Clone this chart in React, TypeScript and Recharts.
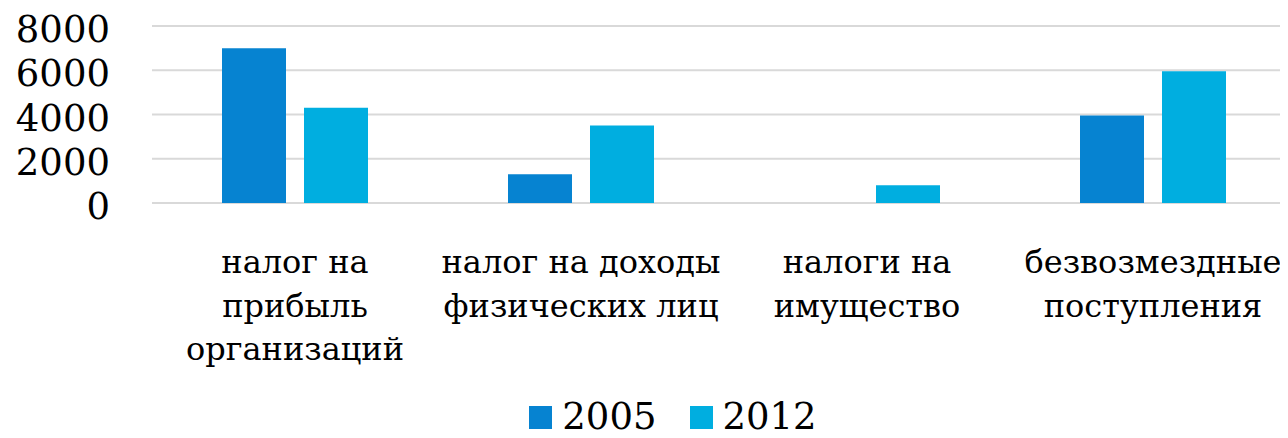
import React from 'react';
import { BarChart, Bar, XAxis, YAxis, CartesianGrid } from 'recharts';

const categories = [
  'налог на\nприбыль\nорганизаций',
  'налог на доходы\nфизических лиц',
  'налоги на\nимущество',
  'безвозмездные\nпоступления',
];
const seriesNames = ['2005', '2012'];
const values2005 = [7000, 1300, 0, 3950];
const values2012 = [4300, 3500, 800, 5950];
const yTicks = [0, 2000, 4000, 6000, 8000];

const data = categories.map((name, i) => ({
  name,
  y2005: values2005[i],
  y2012: values2012[i],
}));

const FONT = 'DejaVu Serif';
const COLORS = ['#0683d1', '#00aee0'];

const CategoryTick = ({ x, y, payload }: any) => {
  const lines = String(payload.value).split('\n');
  return (
    <text x={x} y={y} textAnchor="middle" fontFamily={FONT} fontSize={32} fill="#000">
      {lines.map((line: string, i: number) => (
        <tspan key={i} x={x} dy={i === 0 ? 62 : 43.5}>
          {line}
        </tspan>
      ))}
    </text>
  );
};

const ValueTick = ({ y, payload }: any) => (
  <text x={110} y={y} dy={16} textAnchor="end" fontFamily={FONT} fontSize={37} fill="#000">
    {payload.value}
  </text>
);

const App = () => {
  return (
    <div
      style={{
        position: 'relative',
        margin: -8,
        width: 1288,
        height: 438,
        overflow: 'hidden',
        background: '#fff',
      }}
    >
      <BarChart
        width={1296}
        height={388}
        data={data}
        margin={{ top: 26, right: 0, left: 0, bottom: 0 }}
        barSize={64}
        barGap={18}
      >
        <CartesianGrid vertical={false} stroke="#d9d9d9" strokeWidth={2} />
        <XAxis
          dataKey="name"
          axisLine={false}
          tickLine={false}
          interval={0}
          height={185}
          tick={<CategoryTick />}
        />
        <YAxis
          domain={[0, 8000]}
          ticks={yTicks}
          axisLine={false}
          tickLine={false}
          width={152}
          tick={<ValueTick />}
        />
        <Bar dataKey="y2005" name="2005" fill={COLORS[0]} isAnimationActive={false} />
        <Bar dataKey="y2012" name="2012" fill={COLORS[1]} isAnimationActive={false} />
      </BarChart>
      <div
        style={{
          position: 'absolute',
          left: 0,
          top: 397,
          width: 1288,
          height: 40,
          boxSizing: 'border-box',
          paddingLeft: 58,
          display: 'flex',
          justifyContent: 'center',
          alignItems: 'center',
          fontFamily: FONT,
          fontSize: 37,
          lineHeight: '40px',
        }}
      >
        {seriesNames.map((s, i) => (
          <React.Fragment key={s}>
            <span
              style={{
                width: 23,
                height: 23,
                background: COLORS[i],
                display: 'inline-block',
                marginRight: 10,
                marginLeft: i === 0 ? 0 : 33,
              }}
            />
            <span>{s}</span>
          </React.Fragment>
        ))}
      </div>
    </div>
  );
};

export default App;
